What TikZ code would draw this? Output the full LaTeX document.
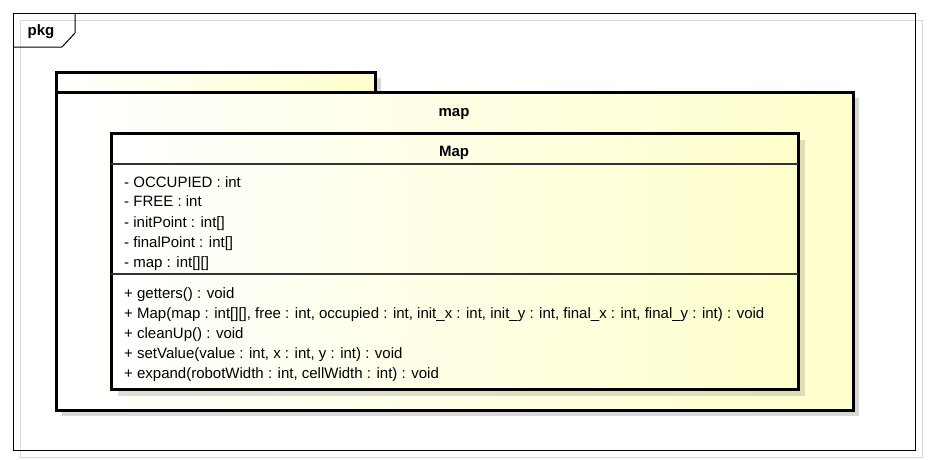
\documentclass[tikz,border=0pt]{standalone}
\usepackage{fontspec}
\setmainfont{Liberation Sans}
\usetikzlibrary{positioning}
\definecolor{umlfill}{RGB}{255,255,204}
\definecolor{shadowgray}{RGB}{216,216,216}
\tikzset{
  umlbox/.style={draw=black, line width=3pt, left color=white, right color=umlfill},
  umlshadow/.style={fill=shadowgray, draw=none},
  member/.style={anchor=base west, inner sep=0pt, font=\fontsize{15}{17}\selectfont},
  umltitle/.style={anchor=base, inner sep=0pt, font=\bfseries\fontsize{15}{17}\selectfont},
}
\begin{document}
\begin{tikzpicture}[x=1pt,y=-1pt]
  \useasboundingbox (0,0) rectangle (928,459);
  % diagram frame
  \draw[shadowgray, line width=1pt] (20,20) rectangle (922,457);
  \draw[line width=1pt] (13,13) rectangle (915,450);
  \draw[line width=1pt] (13,47) -- (62,47) -- (75,33) -- (75,13);
  \node[umltitle] (pkg) at (41,35) {pkg};
  % package map
  \fill[umlshadow] (62,78) rectangle (381,98);
  \fill[umlshadow] (62,98) rectangle (859,416);
  \draw[umlbox] (56,72) rectangle (375,92);
  \draw[umlbox] (56,92) rectangle (853,410);
  \node[umltitle] (mappkg) at (454,116) {map};
  % class Map
  \fill[black, opacity=0.13] (118,140) rectangle (805,396);
  \draw[umlbox] (111,133) rectangle (798,389);
  \draw[line width=1.2pt, black!80] (111,164) -- (798,164);
  \draw[line width=1.2pt, black!80] (111,274) -- (798,274);
  \node[umltitle] (mapclass) at (454,156) {Map};
  % attributes
  \foreach \y/\txt [count=\i] in {
      187/{- OCCUPIED : int},
      206/{- FREE : int},
      227/{- initPoint : int[]},
      247/{- finalPoint : int[]},
      267/{- map : int[][]}}
    \node[member] (attr\i) at (124,\y) {\txt};
  % operations
  \foreach \y/\txt [count=\i] in {
      298/{+ getters() : void},
      318/{+ Map(map : int[][], free : int, occupied : int, init\_x : int, init\_y : int, final\_x : int, final\_y : int) : void},
      338/{+ cleanUp() : void},
      358/{+ setValue(value : int, x : int, y : int) : void},
      378/{+ expand(robotWidth : int, cellWidth : int) : void}}
    \node[member] (op\i) at (124,\y) {\txt};
\end{tikzpicture}
\end{document}
